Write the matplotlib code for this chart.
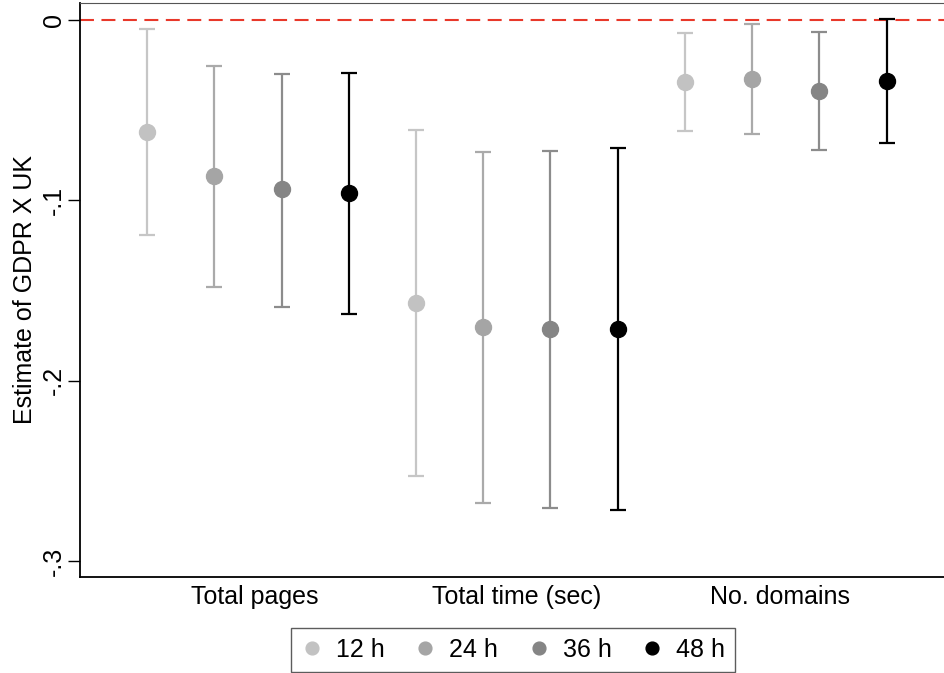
import matplotlib.pyplot as plt

plt.rcParams['font.family'] = ['Liberation Sans', 'DejaVu Sans']

# оцінки та довірчі інтервали для кожної групи (12h, 24h, 36h, 48h)
groups = ["Total pages", "Total time (sec)", "No. domains"]
windows = ["12 h", "24 h", "36 h", "48 h"]

est = [
    [-0.062, -0.0865, -0.094, -0.096],
    [-0.157, -0.170, -0.1714, -0.1714],
    [-0.0344, -0.0327, -0.0394, -0.0338],
]
upper = [
    [-0.005, -0.0255, -0.030, -0.0294],
    [-0.061, -0.0732, -0.0727, -0.071],
    [-0.0072, -0.0022, -0.0067, 0.0006],
]
lower = [
    [-0.119, -0.148, -0.159, -0.163],
    [-0.253, -0.268, -0.2707, -0.2718],
    [-0.0616, -0.0632, -0.0721, -0.068],
]

dot_colors = ["#c2c2c2", "#a5a5a5", "#858585", "#000000"]
bar_colors = ["#c6c6c6", "#aaaaaa", "#8c8c8c", "#000000"]

fig = plt.figure(figsize=(9.45, 6.73), dpi=100)
ax = fig.add_axes([80 / 945, 96 / 673, 1 - 80 / 945, 574 / 673])

ax.axhline(0, color="#e8382a", lw=1.5, ls=(0, (6.7, 3.6)), zorder=1)

for g in range(len(groups)):
    for w in range(len(windows)):
        x = g * 4 + w + 1
        e = est[g][w]
        ax.errorbar([x], [e], yerr=[[e - lower[g][w]], [upper[g][w] - e]],
                    fmt="none", ecolor=bar_colors[w], elinewidth=1.6,
                    capsize=5.5, capthick=1.6, zorder=2)
        ax.plot([x], [e], "o", color=dot_colors[w], ms=11.5, zorder=3,
                label=windows[w] if g == 0 else None)

ax.set_xlim(0, 12.87)
ax.set_ylim(-0.3089, 0.0094)

ax.set_yticks([0, -0.1, -0.2, -0.3])
ax.set_yticklabels(["0", "-.1", "-.2", "-.3"], rotation=90, va="center", fontsize=18)
ax.tick_params(axis="y", length=9, width=1, pad=1)

# підписи груп трохи зміщені, як у Stata
ax.set_xticks([2.6, 6.5, 10.42])
ax.set_xticklabels(groups, fontsize=18)
ax.tick_params(axis="x", length=0, pad=6)

ax.set_ylabel("Estimate of GDPR X UK", fontsize=18, labelpad=4)

ax.spines["right"].set_visible(False)
ax.spines["top"].set_color("#555555")
for s in ["left", "bottom"]:
    ax.spines[s].set_linewidth(1.3)

leg = fig.legend(loc="lower center", bbox_to_anchor=(513 / 945, 1 / 673), ncol=4,
                 fontsize=18, frameon=True, fancybox=False, edgecolor="#333333",
                 handletextpad=0.5, columnspacing=1.18, handlelength=0.9,
                 borderpad=0.4, borderaxespad=0, markerscale=0.8)
leg.get_frame().set_linewidth(1.0)

fig.savefig("out.png", dpi=100)
